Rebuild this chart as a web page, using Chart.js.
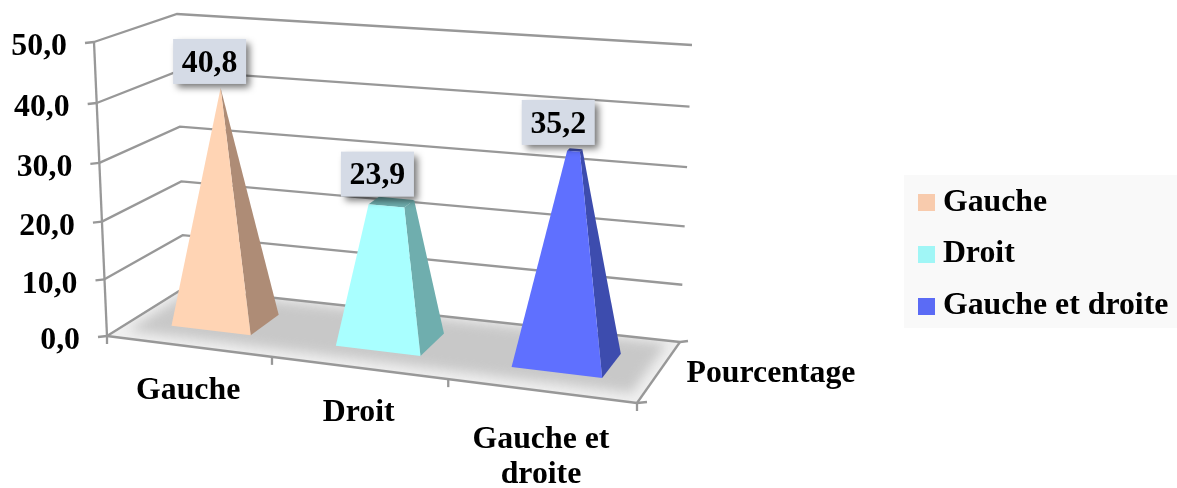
<!DOCTYPE html>
<html lang="fr">
<head>
<meta charset="utf-8">
<title>Pourcentage</title>
<script src="https://cdn.jsdelivr.net/npm/chart.js@4/dist/chart.umd.min.js"></script>
<style>
  html, body { margin: 0; background: #fff; }
  #wrap { width: 1177px; height: 488px; }
</style>
</head>
<body>
<div id="wrap"><canvas id="chart" width="1177" height="488"></canvas></div>
<script>
// Data
const categories = ['Gauche', 'Droit', 'Gauche et droite'];
const percentages = [40.8, 23.9, 35.2];
const seriesName = 'Pourcentage';

// Colours per category
const frontColors = ['#FFD4B4', '#A9FFFF', '#5F70FF'];
const sideColors = ['#AE8C76', '#6FAEAE', '#3D4CAE'];
const topColors = ['#AE8C76', '#6FAEAE', '#3D4CAE'];
const legendColors = ['#F8CBAD', '#A0F6F6', '#5B6BF5'];

// Box of the 3D scene on the page: [x, y] of each corner
const frontLeftBottom = [107, 336];
const frontLeftTop = [94, 42];
const backLeftBottom = [184, 288];
const backLeftTop = [177, 14];
const backRightBottom = [680, 342];
const backRightTop = [692, 45];
const frontRightBottom = [637, 403];
const frontRightTop = [659, 84];

const widthPerspective = 0.904;
const heightPerspective = 0.955;
const pyramidFront = 0.315; // depth range of the pyramids inside the box
const pyramidBack = 0.72;

const textFont = '"Liberation Serif", "Times New Roman", serif';
const fontSize = 31.8;
const boldFont = `bold ${fontSize}px ${textFont}`;
const gridColor = '#989898';

// Data label placement relative to the top of each pyramid
const labelShift = [[-11, -26.5], [-14, -28], [-16.5, -27.5]];

function warp(t, w) {
  return (t * w) / (1 + t * (w - 1));
}

function mix(a, b, t) {
  return [a[0] + (b[0] - a[0]) * t, a[1] + (b[1] - a[1]) * t];
}

// u: left to right, d: front to back, v: bottom to top, all 0..1
function project(u, d, v) {
  const U = warp(u, widthPerspective);
  const V = warp(v, heightPerspective);
  const front = mix(mix(frontLeftBottom, frontRightBottom, U), mix(frontLeftTop, frontRightTop, U), V);
  const back = mix(mix(backLeftBottom, backRightBottom, U), mix(backLeftTop, backRightTop, U), V);
  return mix(front, back, d);
}

function line(ctx, a, b) {
  ctx.beginPath();
  ctx.moveTo(a[0], a[1]);
  ctx.lineTo(b[0], b[1]);
  ctx.stroke();
}

function polygon(ctx, points, color) {
  ctx.beginPath();
  points.forEach((p, i) => (i ? ctx.lineTo(p[0], p[1]) : ctx.moveTo(p[0], p[1])));
  ctx.closePath();
  ctx.fillStyle = color;
  ctx.fill();
}

// Floor with a soft grey patch, lighter towards the edges
function drawFloor(ctx) {
  const corners = [project(0, 0, 0), project(1, 0, 0), project(1, 1, 0), project(0, 1, 0)];
  ctx.save();
  polygon(ctx, corners, '#f0f0f0');
  ctx.clip();
  ctx.filter = 'blur(6px)';
  polygon(ctx, [project(0.02, 0.14, 0), project(0.98, 0.14, 0), project(0.98, 0.96, 0), project(0.02, 0.96, 0)], '#c8c8c8');
  ctx.restore();
}

function drawGrid(ctx, yScale, area) {
  ctx.save();
  ctx.strokeStyle = gridColor;
  ctx.lineWidth = 2.3;

  yScale.ticks.forEach((tick) => {
    const v = (area.bottom - yScale.getPixelForValue(tick.value)) / area.height;
    const start = project(0, 0, v);
    const corner = project(0, 1, v);
    const end = project(1, 1, v);
    ctx.beginPath();
    ctx.moveTo(start[0], start[1]);
    ctx.lineTo(corner[0], corner[1]);
    ctx.lineTo(end[0], end[1]);
    ctx.stroke();
    line(ctx, [start[0] - 9, start[1] + 1], start); // tick stub

    ctx.fillStyle = '#000';
    ctx.font = boldFont;
    ctx.textAlign = 'right';
    ctx.textBaseline = 'middle';
    ctx.fillText(tick.label, start[0] - 27, start[1] + 5);
  });

  // Axis lines
  line(ctx, project(0, 0, 0), project(0, 0, 1));
  line(ctx, project(0, 0, 0), project(1, 0, 0));
  line(ctx, project(1, 0, 0), project(1, 1, 0));

  // Stubs under the front edge and at the right side
  categories.forEach((c, i) => {
    const p = project(i / categories.length, 0, 0);
    line(ctx, p, [p[0], p[1] + 8]);
  });
  const fr = project(1, 0, 0);
  const br = project(1, 1, 0);
  line(ctx, fr, [fr[0], fr[1] + 8]);
  line(ctx, fr, [fr[0] + 10, fr[1] - 1]);
  line(ctx, br, [br[0] + 8, br[1] - 1]);
  ctx.restore();
}

function wrapLabel(ctx, text, maxWidth) {
  const lines = [];
  let current = '';
  text.split(' ').forEach((word) => {
    const next = current ? current + ' ' + word : word;
    if (current && ctx.measureText(next).width > maxWidth) {
      lines.push(current);
      current = word;
    } else {
      current = next;
    }
  });
  lines.push(current);
  return lines;
}

function drawAxisLabels(ctx, xScale, area) {
  ctx.save();
  ctx.fillStyle = '#000';
  ctx.font = boldFont;
  ctx.textAlign = 'center';
  ctx.textBaseline = 'middle';
  xScale.ticks.forEach((tick, i) => {
    const u = (xScale.getPixelForTick(i) - area.left) / area.width;
    const p = project(u, 0, 0);
    const lines = wrapLabel(ctx, tick.label, 160);
    lines.forEach((text, n) => {
      ctx.fillText(text, p[0], p[1] + 45 + (lines.length - 1) * 4 + n * 35);
    });
  });
  // Depth axis shows the series name
  const mid = project(1, 0.5, 0);
  ctx.textAlign = 'left';
  ctx.fillText(seriesName, mid[0] + 28, mid[1] + 1);
  ctx.restore();
}

// A pyramid whose tip sits at the highest value, cut off at its own value
function drawPyramid(ctx, bar, index, yScale, area, tipValue) {
  const value = percentages[index];
  const u = (bar.x - area.left) / area.width;
  const half = bar.width / 2 / area.width;
  const v = (area.bottom - bar.y) / area.height;
  const dMid = (pyramidFront + pyramidBack) / 2;
  const dHalf = (pyramidBack - pyramidFront) / 2;
  const keep = 1 - value / tipValue;

  const base = (su, sd) => project(u + su * half, dMid + sd * dHalf, 0);
  const top = (su, sd) => project(u + su * half * keep, dMid + sd * dHalf * keep, v);

  polygon(ctx, [top(-1, -1), top(1, -1), top(1, 1), top(-1, 1)], topColors[index]);
  polygon(ctx, [base(1, -1), base(1, 1), top(1, 1), top(1, -1)], sideColors[index]);
  polygon(ctx, [base(-1, -1), base(1, -1), top(1, -1), top(-1, -1)], frontColors[index]);

  return project(u, dMid, v);
}

function drawValueLabel(ctx, tip, index) {
  const cx = tip[0] + labelShift[index][0];
  const cy = tip[1] + labelShift[index][1];
  ctx.save();
  ctx.shadowColor = 'rgba(0, 0, 0, 0.55)';
  ctx.shadowBlur = 7;
  ctx.shadowOffsetX = 4;
  ctx.shadowOffsetY = 4;
  ctx.fillStyle = '#D5DBE6';
  ctx.fillRect(cx - 36.5, cy - 22.5, 73, 45);
  ctx.restore();
  ctx.fillStyle = '#000';
  ctx.font = boldFont;
  ctx.textAlign = 'center';
  ctx.textBaseline = 'middle';
  ctx.fillText(percentages[index].toFixed(1).replace('.', ','), cx, cy + 2);
}

const scene3d = {
  id: 'scene3d',
  afterLayout(chart) {
    // Fix the legend to its panel at the right
    const legend = chart.legend;
    const w = legend.width;
    legend.left = 905;
    legend.right = legend.left + w;
    legend.top = 166.5;
    legend.bottom = legend.top + legend.height;
  },
  beforeDraw(chart) {
    const { ctx, chartArea, scales } = chart;
    ctx.save();
    ctx.fillStyle = '#F9F9F9';
    ctx.fillRect(904, 175, 273, 153);
    ctx.restore();
    drawFloor(ctx);
    drawGrid(ctx, scales.y, chartArea);
    drawAxisLabels(ctx, scales.x, chartArea);
  },
  // Pyramids replace the flat bars
  beforeDatasetDraw(chart, args) {
    const { ctx, chartArea, scales } = chart;
    const bars = chart.getDatasetMeta(args.index).data;
    const tipValue = Math.max(...percentages);
    ctx.save();
    const tips = bars.map((bar, i) => drawPyramid(ctx, bar, i, scales.y, chartArea, tipValue));
    tips.forEach((tip, i) => drawValueLabel(ctx, tip, i));
    ctx.restore();
    return false;
  },
};

// Square legend swatch, drawn as a point style so it sits close to its text
function swatch(color) {
  const c = document.createElement('canvas');
  c.width = 17;
  c.height = 17;
  const g = c.getContext('2d');
  g.fillStyle = color;
  g.fillRect(0, 0, 17, 17);
  return c;
}

new Chart(document.getElementById('chart'), {
  type: 'bar',
  data: {
    labels: categories,
    datasets: [
      {
        label: seriesName,
        data: percentages,
        backgroundColor: frontColors,
        barPercentage: 0.49,
        categoryPercentage: 1,
      },
    ],
  },
  plugins: [scene3d],
  options: {
    responsive: false,
    animation: false,
    events: [],
    scales: {
      x: { display: false },
      y: {
        display: false,
        min: 0,
        max: 50,
        ticks: {
          stepSize: 10,
          callback: (value) => value.toFixed(1).replace('.', ','),
        },
      },
    },
    plugins: {
      tooltip: { enabled: false },
      legend: {
        position: 'right',
        align: 'start',
        labels: {
          usePointStyle: true,
          pointStyleWidth: 2,
          boxHeight: 17,
          padding: 20,
          color: '#000',
          font: { family: textFont, size: fontSize, weight: 'bold' },
          generateLabels: () =>
            categories.map((text, i) => ({
              text,
              pointStyle: swatch(legendColors[i]),
              fillStyle: legendColors[i],
              lineWidth: 0,
              strokeStyle: 'transparent',
              index: i,
            })),
        },
      },
    },
  },
});
</script>
</body>
</html>
